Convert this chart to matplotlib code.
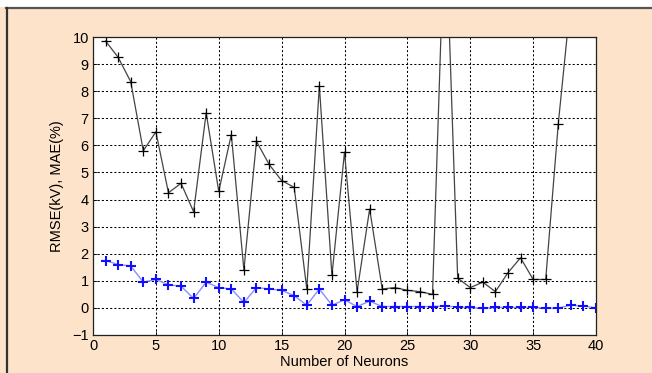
import numpy as np
import matplotlib.pyplot as plt
from matplotlib.lines import Line2D
from matplotlib.patches import Rectangle

# Number of neurons and errors
neurons = np.arange(1, 41)
rmse = [9.85, 9.25, 8.35, 5.8, 6.5, 4.25, 4.6, 3.55, 7.2, 4.3,
        6.4, 1.4, 6.15, 5.3, 4.7, 4.45, 0.7, 8.2, 1.2, 5.75,
        0.6, 3.65, 0.7, 0.75, 0.65, 0.6, 0.5, 14.8, 1.1, 0.75,
        0.95, 0.6, 1.3, 1.85, 1.05, 1.05, 6.8, 11.4, 14.0, 16.0]
mae = [1.75, 1.6, 1.55, 0.95, 1.05, 0.85, 0.8, 0.35, 0.95, 0.75,
       0.7, 0.2, 0.75, 0.7, 0.65, 0.45, 0.1, 0.7, 0.1, 0.3,
       0.05, 0.25, 0.05, 0.05, 0.05, 0.05, 0.05, 0.07, 0.03, 0.02,
       -0.02, 0.02, 0.02, 0.02, 0.02, -0.01, -0.01, 0.1, 0.07, 0.0]
x_ticks = [0, 5, 10, 15, 20, 25, 30, 35, 40]
y_ticks = [-1, 0, 1, 2, 3, 4, 5, 6, 7, 8, 9, 10]

plt.rcParams['font.family'] = ['Liberation Sans', 'DejaVu Sans']

peach = '#fde3ca'
W, H = 652, 373

fig = plt.figure(figsize=(W / 100, H / 100), dpi=100, facecolor=peach)

# white strip and frame lines round the picture
fig.add_artist(Rectangle((0, 1 - 7 / H), 1, 7 / H, transform=fig.transFigure,
                         facecolor='white', edgecolor='none'))
fig.add_artist(Line2D([6 / W, 1], [1 - 8 / H, 1 - 8 / H], transform=fig.transFigure,
                      color='#555555', linewidth=1.6))
fig.add_artist(Line2D([6.5 / W, 6.5 / W], [0, 1 - 8 / H], transform=fig.transFigure,
                      color='#333333', linewidth=1.6))

ax = fig.add_axes([93 / W, 1 - 335 / H, 503 / W, 298 / H])
ax.set_facecolor('white')

ax.plot(neurons, rmse, color='#444444', linewidth=0.9, marker='+',
        markersize=7, markeredgecolor='black', markeredgewidth=0.9)
ax.plot(neurons, mae, color='#8c8cff', linewidth=1.0, marker='+',
        markersize=6.5, markeredgecolor='#1010ff', markeredgewidth=1.5)

ax.set_xlim(0, 40)
ax.set_ylim(-1, 10)
ax.set_xticks(x_ticks)
ax.set_yticks(y_ticks)
ax.tick_params(direction='in', length=3, labelsize=10.5, width=0.6, pad=3)
ax.grid(True, color='black', linestyle=(0, (2, 2)), linewidth=0.75)
for s in ax.spines.values():
    s.set_linewidth(0.9)
    s.set_color('#222222')

ax.set_xlabel('Number of Neurons', fontsize=10.5, labelpad=1)
ax.set_ylabel('RMSE(kV), MAE(%)', fontsize=10.5, labelpad=6)

fig.savefig('out.png', dpi=100, facecolor=peach)
